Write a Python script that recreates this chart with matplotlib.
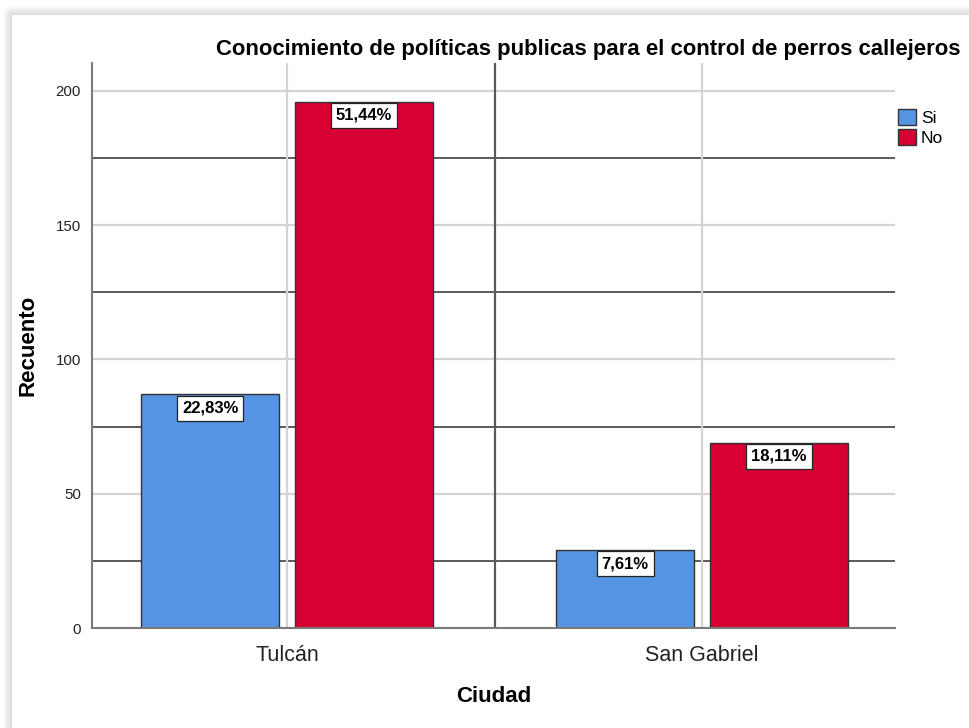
import numpy as np
import matplotlib
matplotlib.use("Agg")
import matplotlib.pyplot as plt

plt.rcParams['font.family'] = ['Liberation Sans', 'DejaVu Sans']

categories = ["Tulcán", "San Gabriel"]
series = ["Si", "No"]
values_si = [87, 29]
values_no = [196, 69]
labels_si = ["22,83%", "7,61%"]
labels_no = ["51,44%", "18,11%"]
yticks = [0, 50, 100, 150, 200]
dark_lines = [25, 75, 125, 175]

title = "Conocimiento de políticas publicas para el control de perros callejeros"

W, H = 969, 728
fig = plt.figure(figsize=(W / 100, H / 100), dpi=100)
fig.patch.set_facecolor("white")

# background panel shadow
bg = fig.add_axes([0, 0, 1, 1], zorder=-10)
bg.set_axis_off()
img = np.ones((H, W, 3))
xs = np.arange(W)[None, :]
ys = np.arange(H)[:, None]
inside = (xs >= 12) & (ys >= 15)
dist = np.sqrt(np.maximum(12 - xs, 0) ** 2 + np.maximum(15 - ys, 0) ** 2)
shade = np.clip(1 - dist / 10.0, 0, 1)
g = 1 - shade * (1 - 0.85)
img[:] = g[..., None]
img[inside] = 1.0
bg.imshow(img, extent=[0, W, H, 0], aspect="auto")
bg.set_xlim(0, W)
bg.set_ylim(H, 0)

ax = fig.add_axes([92 / W, 100 / H, 803 / W, 565 / H])
ax.set_facecolor("none")

x = np.arange(len(categories))
off = 0.185
bw = 0.333
blue = "#5594e2"
red = "#d70032"

# grid lines
for v in yticks[1:]:
    ax.axhline(v, color="#d3d3d3", lw=1.6, zorder=1)
for v in dark_lines:
    ax.axhline(v, color="#5a5a5a", lw=1.4, zorder=1)
for xi in x:
    ax.axvline(xi, color="#d3d3d3", lw=1.6, zorder=1)
ax.axvline(0.5, color="#5a5a5a", lw=1.6, zorder=1)

b1 = ax.bar(x - off, values_si, bw, color=blue, edgecolor="#333333", lw=1.0, zorder=3, label="Si")
b2 = ax.bar(x + off, values_no, bw, color=red, edgecolor="#333333", lw=1.0, zorder=3, label="No")

for bars, labs in ((b1, labels_si), (b2, labels_no)):
    for r, lab in zip(bars, labs):
        ax.annotate(lab, (r.get_x() + r.get_width() / 2, r.get_height()),
                    xytext=(0, -4.5), textcoords="offset points", ha="center", va="top",
                    fontsize=12, fontweight="bold", zorder=5,
                    bbox=dict(boxstyle="square,pad=0.3", fc="white", ec="#222222", lw=0.9))

ax.set_xlim(-0.47, 1.465)
ax.set_ylim(0, 210.4)
ax.set_yticks(yticks)
ax.set_xticks(x)
ax.set_xticklabels(categories, fontsize=15.5)
ax.tick_params(axis="y", length=0, pad=8, labelsize=10.8, colors="#222222")
ax.tick_params(axis="x", length=0, pad=12, colors="#222222")
for s in ("top", "right"):
    ax.spines[s].set_visible(False)
for s in ("left", "bottom"):
    ax.spines[s].set_color("#7a7a7a")
    ax.spines[s].set_linewidth(1.5)
    ax.spines[s].set_zorder(4)

fig.text(28 / W, 1 - 345 / H, "Recuento", rotation=90, ha="center", va="center",
         fontsize=16, fontweight="bold")
fig.text(494 / W, 1 - 696 / H, "Ciudad", ha="center", va="center",
         fontsize=16, fontweight="bold")
fig.text(216 / W, 1 - 55 / H, title, ha="left", va="baseline",
         fontsize=15.9, fontweight="bold")

leg = fig.legend(handles=[b1, b2], labels=series, loc="upper left",
                 bbox_to_anchor=(886 / W, 1 - 97 / H), frameon=False,
                 fontsize=12.5, handlelength=1.0, handleheight=1.0,
                 handletextpad=0.3, labelspacing=0.2, borderpad=0.2)

fig.savefig("out.png", dpi=100)
